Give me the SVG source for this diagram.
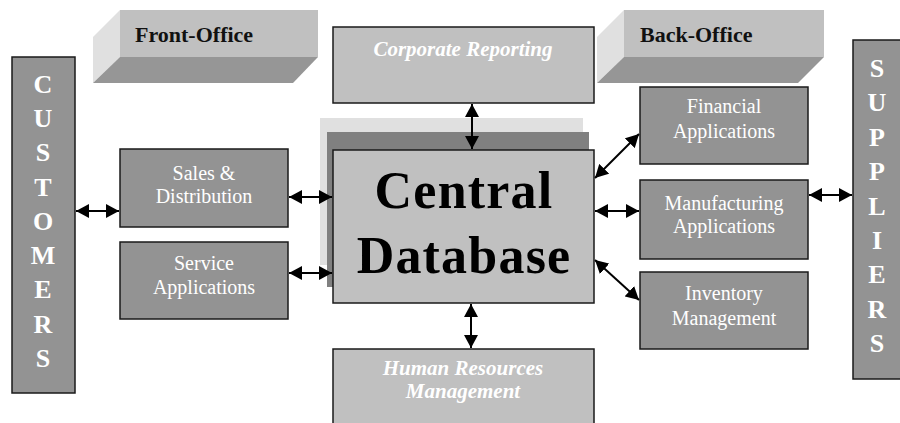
<svg xmlns="http://www.w3.org/2000/svg" width="900" height="423" viewBox="0 0 900 423">
<style>
.dk{fill:#939393;stroke:#1a1a1a;stroke-width:1.5}
.lt{fill:#c0c0c0;stroke:#1a1a1a;stroke-width:1.5}
.lbl{font-family:"Liberation Serif","Times New Roman",serif;font-size:20px;fill:#ffffff;text-anchor:middle}
.it{font-family:"Liberation Serif","Times New Roman",serif;font-size:21px;font-style:italic;font-weight:bold;fill:#ffffff;text-anchor:middle}
.vert{font-family:"Liberation Serif","Times New Roman",serif;font-size:26px;font-weight:bold;fill:#ffffff;text-anchor:middle}
.hdr{font-family:"Liberation Serif","Times New Roman",serif;font-size:22px;font-weight:bold;fill:#111111}
.big{font-family:"Liberation Serif","Times New Roman",serif;font-size:52px;font-weight:bold;fill:#000000;text-anchor:middle;letter-spacing:1.2px}
.con{stroke:#000;stroke-width:2;fill:none;marker-start:url(#ah);marker-end:url(#ah)}
</style>
<defs>
<marker id="ah" markerUnits="userSpaceOnUse" markerWidth="14" markerHeight="14" viewBox="0 0 14 14" refX="13" refY="7" orient="auto-start-reverse">
<path d="M0,0 L13,7 L0,14 z" fill="#000"/>
</marker>
</defs>
<rect width="900" height="423" fill="#ffffff"/>

<g id="front-office">
<polygon points="120,10 93,37 93,83 120,57" fill="#e0e0e0"/>
<polygon points="120,57 318,57 293,83 93,83" fill="#969696"/>
<rect x="120" y="10" width="198" height="47" fill="#c0c0c0"/>
<text class="hdr" x="135" y="42">Front-Office</text>
</g>

<g id="back-office">
<polygon points="624,10 597,37 597,83 624,57" fill="#e0e0e0"/>
<polygon points="624,57 824,57 798,83 597,83" fill="#969696"/>
<rect x="624" y="10" width="200" height="47" fill="#c0c0c0"/>
<text class="hdr" x="640" y="42">Back-Office</text>
</g>

<g id="customers">
<rect class="dk" x="12" y="57" width="63" height="336"/>
<text class="vert" x="43" y="93">C</text>
<text class="vert" x="43" y="127">U</text>
<text class="vert" x="43" y="161">S</text>
<text class="vert" x="43" y="196">T</text>
<text class="vert" x="43" y="230">O</text>
<text class="vert" x="43" y="264">M</text>
<text class="vert" x="43" y="298">E</text>
<text class="vert" x="43" y="333">R</text>
<text class="vert" x="43" y="367">S</text>
</g>

<g id="suppliers">
<rect class="dk" x="853" y="40" width="70" height="339"/>
<text class="vert" x="877" y="77">S</text>
<text class="vert" x="877" y="111">U</text>
<text class="vert" x="877" y="146">P</text>
<text class="vert" x="877" y="180">P</text>
<text class="vert" x="877" y="215">L</text>
<text class="vert" x="877" y="249">I</text>
<text class="vert" x="877" y="283">E</text>
<text class="vert" x="877" y="318">R</text>
<text class="vert" x="877" y="352">S</text>
</g>

<g id="corporate-reporting">
<rect class="lt" x="333" y="27" width="261" height="76"/>
<text class="it" x="463" y="56">Corporate Reporting</text>
</g>

<g id="central-database">
<rect x="320" y="118" width="263" height="147" fill="#e0e0e0"/>
<rect x="327" y="132" width="262" height="155" fill="#808080"/>
<rect class="lt" x="333" y="150" width="261" height="153"/>
<text class="big" x="464" y="208">Central</text>
<text class="big" x="464" y="273">Database</text>
</g>

<g id="human-resources">
<rect class="lt" x="333" y="349" width="261" height="90"/>
<text class="it" x="463" y="375">Human Resources</text>
<text class="it" x="463" y="398">Management</text>
</g>

<g id="sales-distribution">
<rect class="dk" x="120" y="149" width="168" height="78"/>
<text class="lbl" x="204" y="180">Sales &amp;</text>
<text class="lbl" x="204" y="203">Distribution</text>
</g>

<g id="service-applications">
<rect class="dk" x="120" y="242" width="168" height="77"/>
<text class="lbl" x="204" y="270">Service</text>
<text class="lbl" x="204" y="294">Applications</text>
</g>

<g id="financial-applications">
<rect class="dk" x="640" y="87" width="168" height="77"/>
<text class="lbl" x="724" y="113">Financial</text>
<text class="lbl" x="724" y="138">Applications</text>
</g>

<g id="manufacturing-applications">
<rect class="dk" x="640" y="180" width="168" height="79"/>
<text class="lbl" x="724" y="210">Manufacturing</text>
<text class="lbl" x="724" y="233">Applications</text>
</g>

<g id="inventory-management">
<rect class="dk" x="640" y="272" width="168" height="77"/>
<text class="lbl" x="724" y="300">Inventory</text>
<text class="lbl" x="724" y="325">Management</text>
</g>

<g id="connectors">
<line class="con" x1="76" y1="211" x2="119" y2="211"/>
<line class="con" x1="289" y1="197" x2="332" y2="197"/>
<line class="con" x1="289" y1="273" x2="332" y2="273"/>
<line class="con" x1="472" y1="104" x2="472" y2="149"/>
<line class="con" x1="471" y1="304" x2="471" y2="348"/>
<line class="con" x1="595" y1="178" x2="639" y2="134"/>
<line class="con" x1="595" y1="211" x2="639" y2="211"/>
<line class="con" x1="595" y1="260" x2="639" y2="300"/>
<line class="con" x1="809" y1="195" x2="852" y2="195"/>
</g>
</svg>
